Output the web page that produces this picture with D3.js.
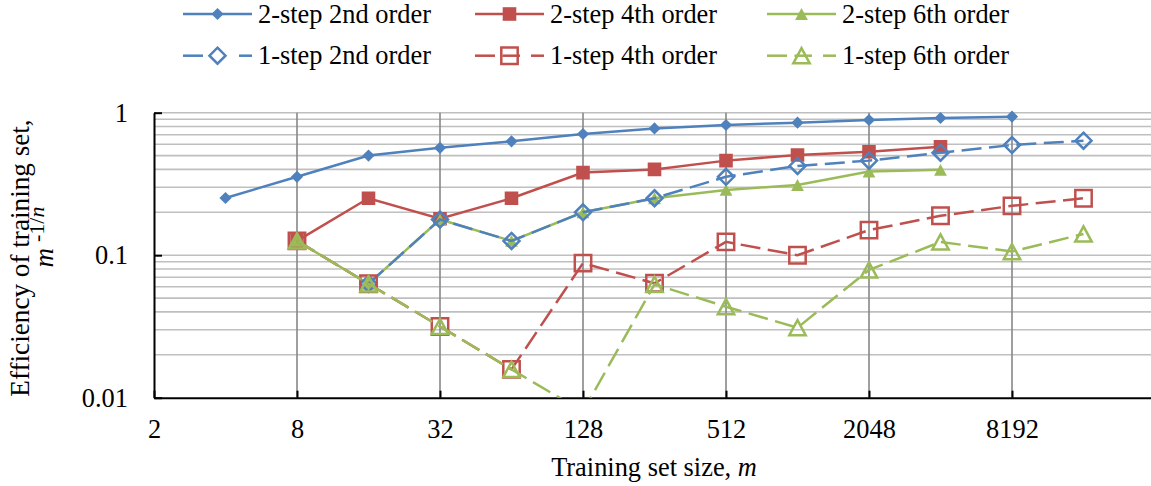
<!DOCTYPE html>
<html><head><meta charset="utf-8">
<script src="https://cdn.jsdelivr.net/npm/d3@7"></script>
</head><body style="margin:0;background:#fff">
<svg id="chart" width="1151" height="486"></svg>
<script>
// ---- data ----
const sizes = [4, 8, 16, 32, 64, 128, 256, 512, 1024, 2048, 4096, 8192, 16384];
const xTicks = [2, 8, 32, 128, 512, 2048, 8192, 32768];
const xTickLabels = ["2", "8", "32", "128", "512", "2048", "8192", ""];
const yTicks = [0.01, 0.1, 1];
const yTickLabels = ["0.01", "0.1", "1"];
const seriesNames = ["2-step 2nd order", "2-step 4th order", "2-step 6th order",
                     "1-step 2nd order", "1-step 4th order", "1-step 6th order"];
const twoStep2nd = [0.252, 0.355, 0.50, 0.567, 0.63, 0.709, 0.775, 0.82, 0.851, 0.889, 0.918, 0.938, null];
const twoStep4th = [null, 0.126, 0.251, 0.180, 0.251, 0.38, 0.40, 0.461, 0.505, 0.532, 0.577, null, null];
const twoStep6th = [null, 0.126, 0.063, 0.178, 0.126, 0.20, 0.251, 0.287, 0.311, 0.386, 0.397, null, null];
const oneStep2nd = [null, null, 0.063, 0.178, 0.126, 0.20, 0.251, 0.355, 0.423, 0.461, 0.524, 0.593, 0.636];
const oneStep4th = [null, 0.126, 0.063, 0.0316, 0.0158, 0.088, 0.0635, 0.124, 0.10, 0.150, 0.189, 0.222, 0.251];
const oneStep6th = [null, 0.126, 0.063, 0.0316, 0.0158, 0.008, 0.0625, 0.0435, 0.031, 0.0788, 0.124, 0.106, 0.141];
const seriesValues = [twoStep2nd, twoStep4th, twoStep6th, oneStep2nd, oneStep4th, oneStep6th];

// ---- styles ----
const colors = ["#4F81BD", "#C0504D", "#9BBB59", "#4F81BD", "#C0504D", "#9BBB59"];
const shapes = ["diamond", "square", "triangle", "diamond", "square", "triangle"];
const filled = [true, true, true, false, false, false];
const dashed = [false, false, false, true, true, true];
const FONT = 26.4;
const FAMILY = "Liberation Serif";
const DASH = "20,7.5";

const svg = d3.select("#chart").attr("font-family", FAMILY);
const L = 154, R = 1155, T = 112.7, B = 397.7;
const x = d3.scaleLog().base(2).domain([2, 32768]).range([L, R]);
const y = d3.scaleLog().base(10).domain([0.01, 1]).range([B, T]);

svg.append("defs").append("clipPath").attr("id", "plotclip")
  .append("rect").attr("x", L).attr("y", T - 12).attr("width", R - L).attr("height", B - T + 12);

// horizontal gridlines (major + minor)
const hGrid = [];
[0.01, 0.1].forEach(d => { for (let k = 2; k <= 10; k++) hGrid.push(d * k); });
svg.append("g").selectAll("line").data(hGrid).join("line")
  .attr("x1", L).attr("x2", R)
  .attr("y1", d => y(d)).attr("y2", d => y(d))
  .attr("stroke", "#BFBFBF").attr("stroke-width", 1.6);

// vertical gridlines
svg.append("g").selectAll("line").data(xTicks.slice(1)).join("line")
  .attr("x1", d => x(d)).attr("x2", d => x(d))
  .attr("y1", T).attr("y2", B)
  .attr("stroke", "#878787").attr("stroke-width", 1.6);

// axes
const xAxis = d3.axisBottom(x).tickValues(xTicks)
  .tickFormat((d, i) => xTickLabels[i]).tickSize(-7).tickSizeOuter(0).tickPadding(22);
const gx = svg.append("g").attr("transform", `translate(0,${B})`).call(xAxis);
const yAxis = d3.axisLeft(y).tickValues(yTicks)
  .tickFormat((d, i) => yTickLabels[i]).tickSize(-8).tickSizeOuter(0).tickPadding(26);
const gy = svg.append("g").attr("transform", `translate(${L},0)`).call(yAxis);
[gx, gy].forEach(g => {
  g.attr("font-size", FONT).attr("font-family", FAMILY);
  g.select(".domain").attr("stroke", "#000").attr("stroke-width", 2);
  g.selectAll(".tick line").attr("stroke", "#000").attr("stroke-width", 2);
  g.selectAll(".tick text").attr("font-family", FAMILY).attr("font-size", FONT).attr("fill", "#000");
});
gy.selectAll(".tick text").attr("dy", "0.33em");

// marker path generator
function markerPath(shape, fill) {
  if (shape === "diamond") {
    const r = fill ? 6.1 : 8.0;
    return `M0,${-r}L${r},0L0,${r}L${-r},0Z`;
  }
  if (shape === "square") {
    const h = fill ? 6.8 : 8.2;
    return `M${-h},${-h}H${h}V${h}H${-h}Z`;
  }
  const w = fill ? 6.4 : 8.2, hh = fill ? 5.9 : 7.6;
  return `M0,${-hh}L${w},${hh}L${-w},${hh}Z`;
}

const line = d3.line().defined(d => d.v != null).x(d => x(d.s)).y(d => y(d.v));
const plot = svg.append("g").attr("clip-path", "url(#plotclip)");
seriesValues.forEach((vals, i) => {
  const pts = sizes.map((s, j) => ({ s, v: vals[j] }));
  plot.append("path").datum(pts)
    .attr("d", line).attr("fill", "none")
    .attr("stroke", colors[i]).attr("stroke-width", 2.5)
    .attr("stroke-dasharray", dashed[i] ? DASH : null);
  plot.append("g").selectAll("path").data(pts.filter(d => d.v != null)).join("path")
    .attr("transform", d => `translate(${x(d.s)},${y(d.v)})`)
    .attr("d", markerPath(shapes[i], filled[i]))
    .attr("fill", filled[i] ? colors[i] : "none")
    .attr("stroke", filled[i] ? "none" : colors[i])
    .attr("stroke-width", 2.5);
});

// legend
const legCols = [183, 475, 767];
const legRows = [14, 55.7];
seriesNames.forEach((name, i) => {
  const x0 = legCols[i % 3], yy = legRows[Math.floor(i / 3)];
  const g = svg.append("g");
  if (!dashed[i]) {
    g.append("line").attr("x1", x0).attr("x2", x0 + 69).attr("y1", yy).attr("y2", yy)
      .attr("stroke", colors[i]).attr("stroke-width", 2.5);
  } else {
    const segs = shapes[i] === "diamond" ? [[0, 20], [56, 69]] : [[0, 20], [27.5, 45], [56, 69]];
    segs.forEach(s => g.append("line").attr("x1", x0 + s[0]).attr("x2", x0 + s[1])
      .attr("y1", yy).attr("y2", yy).attr("stroke", colors[i]).attr("stroke-width", 2.5));
  }
  g.append("path").attr("transform", `translate(${x0 + 34.5},${yy})`)
    .attr("d", markerPath(shapes[i], filled[i]))
    .attr("fill", filled[i] ? colors[i] : "none")
    .attr("stroke", filled[i] ? "none" : colors[i]).attr("stroke-width", 2.5);
  g.append("text").attr("x", x0 + 75).attr("y", yy).attr("dy", "0.33em")
    .attr("font-family", FAMILY).attr("font-size", FONT).text(name);
});

// axis titles
const xt = svg.append("text").attr("x", 654).attr("y", 476).attr("text-anchor", "middle")
  .attr("font-family", FAMILY).attr("font-size", FONT);
xt.append("tspan").text("Training set size, ");
xt.append("tspan").attr("font-style", "italic").text("m");

svg.append("text").attr("transform", "translate(28.5,258) rotate(-90)")
  .attr("text-anchor", "middle").attr("font-family", FAMILY).attr("font-size", 27.2)
  .text("Efficiency of training set,");
const yt2 = svg.append("text").attr("transform", "translate(53,237) rotate(-90)")
  .attr("text-anchor", "middle").attr("font-family", FAMILY).attr("font-size", 27);
yt2.append("tspan").attr("font-style", "italic").text("m");
yt2.append("tspan").attr("dx", 6).attr("dy", -9).attr("font-size", 22).text("-1/");
yt2.append("tspan").attr("font-style", "italic").attr("font-size", 22).text("n");
</script>
</body></html>
